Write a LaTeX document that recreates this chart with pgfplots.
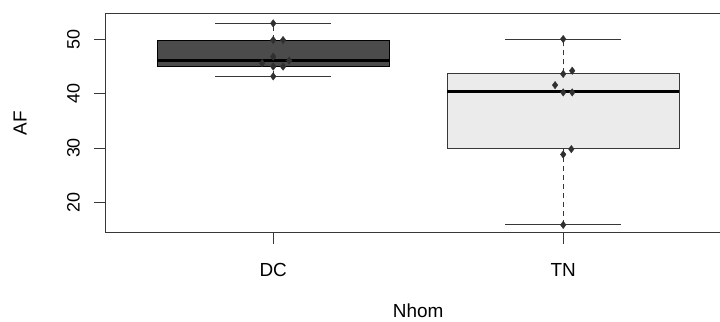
\documentclass[border=0pt]{standalone}
\usepackage{pgfplots}
\pgfplotsset{compat=1.18}
\usepackage{fontspec}
\setmainfont{Liberation Sans}
\definecolor{ln}{HTML}{383838}
\definecolor{dcfill}{HTML}{4B4B4B}
\definecolor{tnfill}{HTML}{EBEBEB}
\definecolor{pt}{HTML}{303030}
\begin{document}
\begin{tikzpicture}
\useasboundingbox (0,0) rectangle (720bp,322bp);
\clip (0,0) rectangle (720bp,322bp);
\begin{axis}[
  at={(105bp,89bp)}, anchor=south west,
  scale only axis, width=626.4bp, height=219bp,
  xmin=0.42, xmax=2.58, ymin=14.4, ymax=54.6,
  axis line style={ln, line width=1bp},
  xtick={1,2}, xticklabels={DC,TN},
  ytick={20,30,40,50},
  xtick pos=bottom, ytick pos=left,
  tick align=outside, major tick length=11bp,
  tick style={ln, line width=1bp},
  /pgf/number format/assume math mode=true,
  xticklabel style={font=\fontsize{19}{20}\selectfont, anchor=base, inner sep=0pt, yshift=-32bp},
  yticklabel style={font=\fontsize{18}{20}\selectfont, anchor=south, inner sep=0pt, xshift=-14bp, rotate=90},
  xlabel={Nhom}, ylabel={AF},
  xlabel style={font=\fontsize{19}{20}\selectfont, at={(axis description cs:0.5,-0.3881)}, anchor=base, inner sep=0pt},
  ylabel style={font=\fontsize{19}{20}\selectfont, at={(axis description cs:-0.1357,0.5)}, anchor=center, inner sep=0pt},
]
% DC box
\addplot[draw=ln, dash pattern=on 5bp off 4bp, line width=1.2bp] coordinates {(1,43.15) (1,45.04)};
\addplot[draw=ln, dash pattern=on 5bp off 4bp, line width=1.2bp] coordinates {(1,49.82) (1,52.88)};
\addplot[draw=black, line width=1bp, fill=dcfill] coordinates {(0.6,45.04) (1.4,45.04) (1.4,49.82) (0.6,49.82)} --cycle;
\addplot[black, line width=2.8bp] coordinates {(0.6,46.01) (1.4,46.01)};
% TN box
\addplot[draw=ln, dash pattern=on 5bp off 4bp, line width=1.2bp] coordinates {(2,15.89) (2,29.92)};
\addplot[draw=ln, dash pattern=on 5bp off 4bp, line width=1.2bp] coordinates {(2,43.7) (2,50.0)};
\addplot[draw=ln, line width=1bp, fill=tnfill] coordinates {(1.6,29.92) (2.4,29.92) (2.4,43.7) (1.6,43.7)} --cycle;
\addplot[black, line width=2.8bp] coordinates {(1.6,40.32) (2.4,40.32)};
% whisker caps
\addplot[ln, line width=1.1bp] coordinates {(0.8,52.88) (1.2,52.88)};
\addplot[ln, line width=1.1bp] coordinates {(0.8,43.15) (1.2,43.15)};
\addplot[ln, line width=1.1bp] coordinates {(1.8,50.0) (2.2,50.0)};
\addplot[ln, line width=1.1bp] coordinates {(1.8,15.89) (2.2,15.89)};
% points
\addplot[only marks, mark=diamond*, mark size=3.7bp, pt, mark options={fill=pt, draw=pt}] coordinates {
  (1,52.88) (1,49.82) (1.034,49.82) (1,46.77) (1.055,46.04) (0.962,45.57) (1,44.95) (1.034,44.95) (1,43.15)
  (2,50.0) (2,43.6) (2.031,44.18) (1.972,41.55) (2,40.21) (2.031,40.21) (2.028,29.8) (2,28.82) (2,15.89)
};
\end{axis}
\end{tikzpicture}
\end{document}
